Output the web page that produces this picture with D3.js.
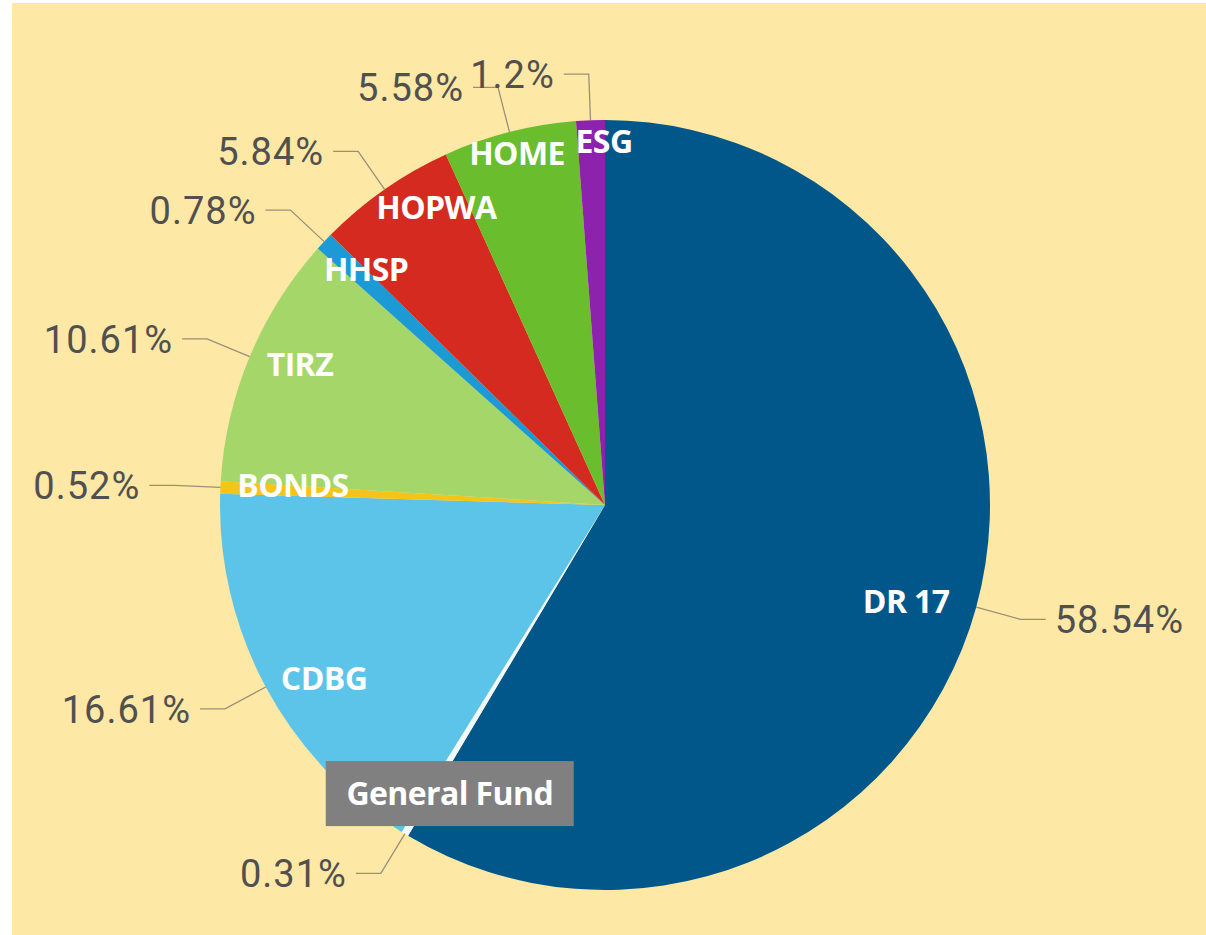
<!DOCTYPE html>
<html lang="en">
  <head>
    <meta charset="utf-8">
    <title>funding sources</title>
    <style>
      body { margin: 0; background: #fff; }
    </style>
  </head>
  <body>

<script src="https://d3js.org/d3.v7.min.js"></script>

<script>

// data, clockwise from 12 o'clock
var sources = ["DR 17", "General Fund", "CDBG", "BONDS", "TIRZ", "HHSP", "HOPWA", "HOME", "ESG"];
var shares = [58.54, 0.31, 16.61, 0.52, 10.61, 0.78, 5.84, 5.58, 1.2];
var shareLabels = ["58.54%", "0.31%", "16.61%", "0.52%", "10.61%", "0.78%", "5.84%", "5.58%", "1.2%"];

// look
var colors = ["#01578a", "#f2f9fc", "#5bc4e8", "#f5c418", "#a4d66a", "#1b9ad6", "#d42a1f", "#6abd2d", "#8c22ad"];
// inner label placement: fraction of radius, angle nudge in degrees
var labelRadius = [0.821, 0.85, 0.857, 0.812, 0.872, 0.871, 0.889, 0.94, 0.943];
var labelNudge = [2.3, -3.0, -3.4, 0.9, 2.0, 1.4, 5.4, 0.3, 2.0];

var width = 1206, height = 935;
var cx = 605, cy = 505, R = 385;

var svg = d3.select("body").append("svg")
            .attr("width", width)
            .attr("height", height);

// yellow panel
svg.append("rect")
   .attr("x", 12)
   .attr("y", 3)
   .attr("width", width - 12)
   .attr("height", height - 3)
   .attr("fill", "#fde8a5");

var g = svg.append("g").attr("transform", "translate(" + cx + "," + cy + ")");

var pie = d3.pie().sort(null).value(function(d) { return d; });
var arcs = pie(shares);

var arc = d3.arc().innerRadius(0).outerRadius(R);

g.selectAll("path.slice")
 .data(arcs)
 .enter().append("path")
 .attr("class", "slice")
 .attr("d", arc)
 .attr("fill", function(d, i) { return colors[i]; });

function mid(d) { return (d.startAngle + d.endAngle) / 2; }
function polar(a, r) { return [r * Math.sin(a), -r * Math.cos(a)]; }

// leader lines and percent labels
arcs.forEach(function(d, i) {
  var a = mid(d);
  var p0 = polar(a, R);
  var p1 = polar(a, R * 1.12);
  var side = Math.sin(a) >= 0 ? 1 : -1;
  var p2 = [p1[0] + side * 25, p1[1]];

  g.append("polyline")
   .attr("points", [p0, p1, p2].map(function(p) { return p.join(","); }).join(" "))
   .attr("fill", "none")
   .attr("stroke", "#9a9078")
   .attr("stroke-width", 1.3);

  g.append("text")
   .attr("x", p2[0] + side * 9)
   .attr("y", p2[1])
   .attr("dy", "0.36em")
   .attr("text-anchor", side > 0 ? "start" : "end")
   .attr("font-family", "Roboto, 'DejaVu Sans Condensed', sans-serif")
   .attr("font-weight", 400)
   .attr("font-size", 38)
   .attr("letter-spacing", 1)
   .attr("fill", "#505050")
   .text(shareLabels[i]);
});

// category labels inside the pie
arcs.forEach(function(d, i) {
  var p = polar(mid(d) + labelNudge[i] * Math.PI / 180, R * labelRadius[i]);
  var lg = g.append("g").attr("transform", "translate(" + p[0] + "," + p[1] + ")");
  if (sources[i] == "General Fund") {
    lg.append("rect")
      .attr("x", -124)
      .attr("y", -32)
      .attr("width", 248)
      .attr("height", 65)
      .attr("fill", "#808080");
  }
  lg.append("text")
    .attr("text-anchor", "middle")
    .attr("dy", "0.36em")
    .attr("font-family", "'Open Sans', sans-serif")
    .attr("font-weight", 700)
    .attr("font-size", 32)
    .attr("letter-spacing", -0.6)
    .attr("fill", "#fff")
    .text(sources[i]);
});

</script>

  </body>
</html>
